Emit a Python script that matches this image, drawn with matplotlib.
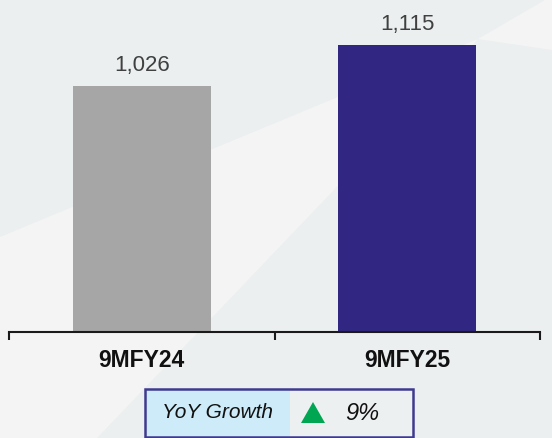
import matplotlib.pyplot as plt
from matplotlib.patches import Polygon, Rectangle

plt.rcParams['font.family'] = ['Liberation Sans', 'DejaVu Sans']

categories = ['9MFY24', '9MFY25']
values = [1026, 1115]
bar_colors = ['#A6A6A6', '#312682']
growth_label = 'YoY Growth'
growth_value = '9%'

W, H = 552, 438
fig = plt.figure(figsize=(W / 100, H / 100), dpi=100)
fig.patch.set_facecolor('#EBEFF0')


def px(x, y):
    # pixel coords (top-left origin) -> figure fraction
    return (x / W, 1 - y / H)


# lighter background wedges
light = '#F4F4F4'
for pts in ([(0, 237), (478, 39), (97, 438), (0, 438)],
            [(478, 39), (545, 0), (552, 0), (552, 50)]):
    fig.patches.append(Polygon([px(*p) for p in pts], closed=True,
                               transform=fig.transFigure, facecolor=light,
                               edgecolor='none', zorder=-10))

ax = fig.add_axes([9 / W, 1 - 332 / H, 531 / W, 332 / H])
ax.patch.set_alpha(0)
xs = range(len(categories))
bars = ax.bar(xs, values, width=0.52, color=bar_colors, zorder=2)
ax.set_xlim(-0.5, 1.5)
ax.set_ylim(492, 1212)

for b, v in zip(bars, values):
    ax.annotate(f'{v:,}', (b.get_x() + b.get_width() / 2, v),
                xytext=(0, 7), textcoords='offset points',
                ha='center', va='bottom', fontsize=16, color='#404040')

for s in ['top', 'right', 'left']:
    ax.spines[s].set_visible(False)
ax.spines['bottom'].set_linewidth(1.5)
ax.spines['bottom'].set_color('#1a1a1a')
ax.set_yticks([])
ax.set_xticks([-0.5, 0.5, 1.5])
ax.set_xticklabels([])
ax.tick_params(axis='x', length=6, width=1.5, color='#1a1a1a', direction='out')
for i, c in enumerate(categories):
    ax.text(i, -0.085, c, transform=ax.get_xaxis_transform(), ha='center',
            va='center', fontsize=16.5, fontweight='bold', color='#111111')

# YoY growth box
x0, x1, xm = 145, 413, 290
y0, y1 = 389, 437
fig.patches.append(Rectangle(px(x0, y1), (xm - x0) / W, (y1 - y0) / H,
                             transform=fig.transFigure, facecolor='#CDEBF8',
                             edgecolor='none', zorder=3))
fig.patches.append(Rectangle(px(xm, y1), (x1 - xm) / W, (y1 - y0) / H,
                             transform=fig.transFigure, facecolor='#EDF0F1',
                             edgecolor='none', zorder=3))
fig.patches.append(Rectangle(px(x0, y1), (x1 - x0) / W, (y1 - y0) / H,
                             transform=fig.transFigure, facecolor='none',
                             edgecolor='#3F3A8F', linewidth=1.8, zorder=4))
fig.text(*px((x0 + xm) / 2, 413), growth_label, ha='center', va='center',
         fontsize=15, style='italic', color='#111111')
fig.patches.append(Polygon([px(301, 423), px(325, 423), px(313, 402)],
                           closed=True, transform=fig.transFigure,
                           facecolor='#00A651', edgecolor='none', zorder=5))
fig.text(*px(362, 413), growth_value, ha='center', va='center',
         fontsize=17, style='italic', color='#111111')

fig.savefig('out.png', dpi=100, facecolor=fig.get_facecolor())
